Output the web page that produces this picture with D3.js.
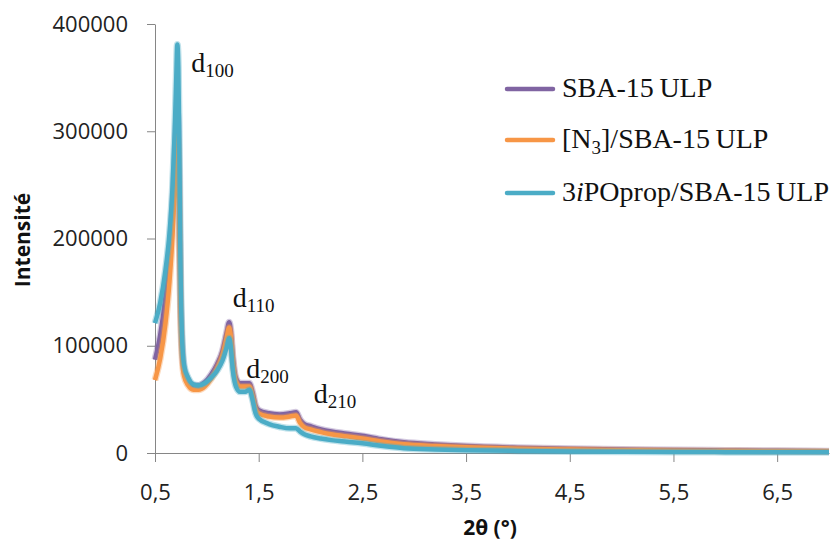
<!DOCTYPE html>
<meta charset="utf-8">
<style>
    body { margin: 0; background: #fff; }
    .axis text { font-family: "Open Sans", sans-serif; font-size: 22px; fill: #222; }
    .axis path, .axis line { stroke: #868686; }
    .title { font-family: "Open Sans", sans-serif; font-weight: bold; font-size: 21px; fill: #111; }
    .serif { font-family: "Liberation Serif", "Times New Roman", serif; font-size: 28px; fill: #111; }
</style>
<svg id="chart" width="830" height="544"></svg>
<script src="https://cdn.jsdelivr.net/npm/d3@7"></script>
<script>
// 2theta values, shared by the three patterns
var angles = [0.5, 0.55, 0.6, 0.64, 0.67, 0.69, 0.705, 0.715, 0.725, 0.735, 0.745, 0.76, 0.78, 0.82, 0.87, 0.92, 0.98,
    1.04, 1.1, 1.15, 1.19, 1.215, 1.23, 1.25, 1.28, 1.32, 1.37, 1.41, 1.44, 1.47, 1.5, 1.6, 1.7, 1.8, 1.86, 1.9, 1.94,
    2.0, 2.1, 2.2, 2.35, 2.5, 2.7, 2.9, 3.2, 3.5, 4.0, 4.5, 5.0, 5.5, 6.0, 6.5, 7.0];

var sba15 = [87000, 110000, 145000, 185000, 230000, 270000, 305000, 318000, 300000, 230000, 150000, 100000, 78000, 68000, 63000, 63000, 66000,
    73000, 83000, 95000, 112000, 122000, 115000, 90000, 70000, 65000, 65000, 65000, 57000, 44000, 40000, 37000, 36000, 37000, 38000, 31000, 27000,
    25000, 22000, 20000, 18000, 16000, 12500, 10000, 8000, 6500, 5000, 4000, 3300, 2800, 2400, 2000, 1700];

var n3 = [68000, 88000, 120000, 160000, 205000, 245000, 282000, 296000, 280000, 215000, 140000, 92000, 72000, 63000, 59000, 59000, 62000,
    69000, 79000, 91000, 107000, 117000, 110000, 86000, 67000, 62000, 62000, 62000, 54000, 41000, 37000, 34000, 33000, 34000, 35000, 28000, 24000,
    22000, 19500, 17500, 15500, 13500, 10500, 8200, 6500, 5300, 4000, 3200, 2600, 2200, 1900, 1600, 1400];

var ipoprop = [121000, 140000, 170000, 205000, 250000, 300000, 350000, 381000, 360000, 280000, 180000, 110000, 82000, 70000, 64000, 63000, 65000,
    70000, 77000, 86000, 98000, 107000, 100000, 78000, 62000, 57000, 57000, 59000, 50000, 37000, 32000, 27000, 24500, 23000, 23000, 20000, 17500,
    15500, 13500, 12000, 10500, 9000, 6500, 4500, 3300, 2600, 1900, 1400, 1100, 900, 800, 700, 600];

var xTicks = [0.5, 1.5, 2.5, 3.5, 4.5, 5.5, 6.5];
var yTicks = [0, 100000, 200000, 300000, 400000];

var series = [
    {name: "sba", values: sba15, color: "#8064A2"},
    {name: "n3", values: n3, color: "#F79646"},
    {name: "ipo", values: ipoprop, color: "#4BACC6"}
];

// reflection labels: index text, 2theta and intensity where the label sits
var peaks = [
    {idx: "100", x: 0.85, y: 355000},
    {idx: "110", x: 1.25, y: 136000},
    {idx: "200", x: 1.38, y: 70000},
    {idx: "210", x: 2.03, y: 47000}
];

var svg = d3.select("#chart");
var x = d3.scaleLinear().domain([0.5, 7.0]).range([155, 829]);
var y = d3.scaleLinear().domain([0, 400000]).range([453, 24]);

// axes
var gx = svg.append("g").attr("class", "axis")
    .attr("transform", "translate(0,453)")
    .call(d3.axisBottom(x).tickValues(xTicks).tickSize(9).tickSizeOuter(0)
        .tickFormat(d => String(d).replace(".", ",")));
gx.selectAll("text").attr("y", 47).attr("dy", 0);

var gy = svg.append("g").attr("class", "axis")
    .attr("transform", "translate(155,0)")
    .call(d3.axisLeft(y).tickValues(yTicks).tickSize(8).tickPadding(19).tickSizeOuter(0)
        .tickFormat(d3.format("d")));

// lines
var line = d3.line()
    .x((d, i) => x(angles[i]))
    .y(d => y(d))
    .curve(d3.curveMonotoneX);

series.forEach(s => {
    svg.append("path")
        .attr("d", line(s.values))
        .attr("fill", "none")
        .attr("stroke", s.color)
        .attr("stroke-opacity", 0.35)
        .attr("stroke-width", 7)
        .attr("stroke-linejoin", "round");
    svg.append("path")
        .attr("d", line(s.values))
        .attr("fill", "none")
        .attr("stroke", s.color)
        .attr("stroke-width", 4.5)
        .attr("stroke-linejoin", "round");
});

// peak labels
peaks.forEach(p => {
    var t = svg.append("text").attr("class", "serif")
        .attr("x", x(p.x)).attr("y", y(p.y));
    t.append("tspan").text("d");
    t.append("tspan").attr("dy", 5).attr("font-size", 19).text(p.idx);
});

// legend
var legend = svg.append("g").attr("transform", "translate(507,0)");
var legendY = [89, 140, 193];
series.forEach((s, i) => {
    legend.append("line")
        .attr("x1", 0).attr("x2", 46)
        .attr("y1", legendY[i]).attr("y2", legendY[i])
        .attr("stroke", s.color).attr("stroke-width", 4.5).attr("stroke-linecap", "round");
    var t = legend.append("text").attr("class", "serif")
        .attr("x", 55).attr("y", legendY[i] + 8);
    if (i === 0) {
        t.text("SBA-15\u2009ULP");
    } else if (i === 1) {
        t.append("tspan").text("[N");
        t.append("tspan").attr("dy", 6).attr("font-size", 19).text("3");
        t.append("tspan").attr("dy", -6).text("]/SBA-15\u2009ULP");
    } else {
        t.append("tspan").text("3");
        t.append("tspan").attr("font-style", "italic").text("i");
        t.append("tspan").text("POprop/SBA-15\u2009ULP");
    }
});

// axis titles
svg.append("text").attr("class", "title")
    .attr("x", 490).attr("y", 535).attr("text-anchor", "middle")
    .text("2\u03b8 (°)");
svg.append("text").attr("class", "title")
    .attr("transform", "translate(30,240) rotate(-90)")
    .attr("text-anchor", "middle")
    .text("Intensité");
</script>
